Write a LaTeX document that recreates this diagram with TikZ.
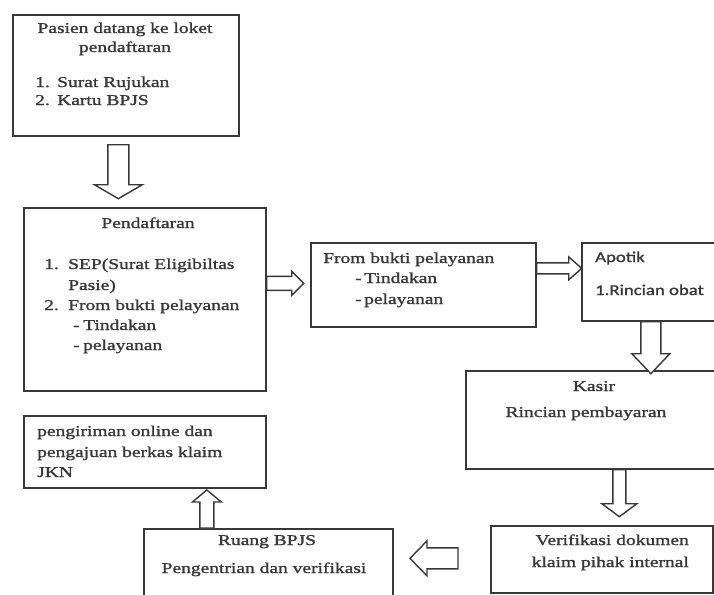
\documentclass[tikz,border=0pt]{standalone}
\usepackage{fontspec}
\setmainfont{Liberation Serif}[FakeStretch=1.3,FakeBold=1.3]
\newfontfamily\calib{Carlito}[FakeStretch=1.25,FakeBold=1.2]
\definecolor{ink}{gray}{0.22}
\tikzset{
  box/.style={draw=ink, line width=1.7pt, inner sep=0pt, anchor=north west},
  txt/.style={inner sep=0pt, text=ink, font=\fontsize{15}{18}\selectfont},
  arrowline/.style={draw=ink, line width=1.4pt, line join=miter, fill=white},
  pics/barrow/.style n args={4}{code={
    \draw[arrowline] (0,-#2) -- ({#1-#4},-#2) -- ({#1-#4},-#3) -- (#1,0)
      -- ({#1-#4},#3) -- ({#1-#4},#2) -- (0,#2) -- cycle;
  }}
}
\newcommand{\numlab}[2]{\makebox[#1][l]{#2}}
\begin{document}
\begin{tikzpicture}[x=1pt,y=1pt]
\clip (0,0) rectangle (714,-594);
\fill[white] (0,0) rectangle (714,-594);
% boxes
\node[box, minimum width=226, minimum height=121] (b1) at (12,-14) {};
\node[box, minimum width=242, minimum height=183] (b2) at (23,-207) {};
\node[box, minimum width=225, minimum height=84] (b3) at (310,-242) {};
\node[box, minimum width=160, minimum height=78] (b4) at (581,-242) {};
\node[box, minimum width=280, minimum height=98] (b5) at (465,-370) {};
\node[box, minimum width=222, minimum height=67] (b6) at (490,-525) {};
\node[box, minimum width=249, minimum height=90] (b7) at (143,-528) {};
\node[box, minimum width=242, minimum height=72] (b8) at (23,-415) {};
% block arrows
\pic[rotate=-90] at ([shift={(-7.5,-8)}]b1.south) {barrow={54}{10.5}{24}{14}};
\pic at ([shift={(0,16)}]b2.east) {barrow={37}{7}{12}{12}};
\pic at ([shift={(0,16.5)}]b3.east) {barrow={45}{5.5}{11.5}{13}};
\pic[rotate=-90] at ([shift={(-11,0)}]b4.south) {barrow={52}{10}{19}{20}};
\pic[rotate=-90] at ([shift={(13.5,0)}]b5.south) {barrow={47}{6.5}{17.5}{13}};
\pic[rotate=180] at ([shift={(-32,1)}]b6.west) {barrow={48}{10.5}{17.5}{17}};
\pic[rotate=90] at ([shift={(-61.5,0)}]b7.north) {barrow={38}{7}{14.5}{12}};
% texts box 1
\node[txt, anchor=base] (t1a) at (125,-33) {Pasien datang ke loket};
\node[txt, anchor=base] (t1b) at (125,-52) {pendaftaran};
\node[txt, anchor=base west] (t1c) at (35,-87) {\numlab{22pt}{1.}Surat Rujukan};
\node[txt, anchor=base west] (t1d) at (35,-105) {\numlab{22pt}{2.}Kartu BPJS};
% texts box 2
\node[txt, anchor=base] (t2a) at (148,-228) {Pendaftaran};
\node[txt, anchor=base west] (t2b) at (44,-269) {\numlab{24pt}{1.}SEP(Surat Eligibiltas};
\node[txt, anchor=base west] (t2c) at (68,-290) {Pasie)};
\node[txt, anchor=base west] (t2d) at (44,-310) {\numlab{24pt}{2.}From bukti pelayanan};
\node[txt, anchor=base west] (t2e) at (73,-330) {\numlab{10pt}{-}Tindakan};
\node[txt, anchor=base west] (t2f) at (73,-350) {\numlab{10pt}{-}pelayanan};
% texts box 3
\node[txt, anchor=base west] (t3a) at (323,-263) {From bukti pelayanan};
\node[txt, anchor=base west] (t3b) at (355,-283) {\numlab{9pt}{-}Tindakan};
\node[txt, anchor=base west] (t3c) at (355,-304) {\numlab{9pt}{-}pelayanan};
% texts box 4
\node[txt, anchor=base west, font=\fontsize{15}{18}\calib] (t4a) at (595,-262) {Apotik};
\node[txt, anchor=base west, font=\fontsize{15}{18}\calib] (t4b) at (595,-295) {1.Rincian obat};
% texts box 5
\node[txt, anchor=base] (t5a) at (594,-391) {Kasir};
\node[txt, anchor=base] (t5b) at (586,-417) {Rincian pembayaran};
% texts box 6
\node[txt, anchor=base east] (t6a) at (689,-545) {Verifikasi dokumen};
\node[txt, anchor=base east] (t6b) at (689,-567) {klaim pihak internal};
% texts box 7
\node[txt, anchor=base] (t7a) at (267,-545) {Ruang BPJS};
\node[txt, anchor=base] (t7b) at (264,-573) {Pengentrian dan verifikasi};
% texts box 8
\node[txt, anchor=base west] (t8a) at (37,-436) {pengiriman online dan};
\node[txt, anchor=base west] (t8b) at (37,-457) {pengajuan berkas klaim};
\node[txt, anchor=base west] (t8c) at (37,-477) {JKN};
\end{tikzpicture}
\end{document}
